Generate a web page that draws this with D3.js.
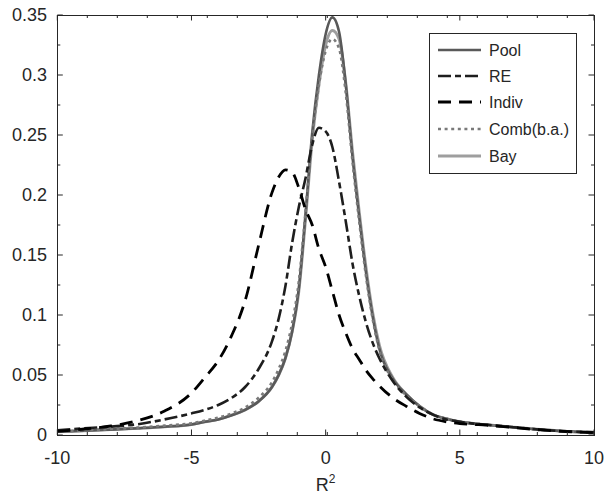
<!DOCTYPE html>
<html><head><meta charset="utf-8">
<script src="https://cdn.jsdelivr.net/npm/d3@7"></script>
<style>
body{margin:0;background:#fff;}
text{font-family:"Liberation Sans",Arial,Helvetica,sans-serif;fill:#262626;}
</style></head>
<body><svg id="c" width="606" height="496"></svg>
<script>
const xGrid = [-10,-9,-8,-7,-6,-5,-4.5,-4,-3.5,-3,-2.5,-2,-1.75,-1.5,-1.25,-1,-0.75,-0.5,-0.25,0,0.25,0.5,0.75,1,1.25,1.5,1.75,2,2.5,3,3.5,4,4.5,5,5.5,6,6.5,7,8,9,10];
const poolY = [0.0028,0.0035,0.0045,0.0056,0.0069,0.0088,0.011,0.013,0.0165,0.021,0.028,0.040,0.050,0.064,0.086,0.122,0.184,0.252,0.300,0.334,0.348,0.336,0.292,0.232,0.182,0.136,0.099,0.072,0.047,0.034,0.024,0.017,0.0135,0.011,0.0095,0.0085,0.0075,0.0065,0.0045,0.003,0.0022];
const reY = [0.004,0.0055,0.007,0.009,0.013,0.018,0.021,0.025,0.031,0.040,0.055,0.078,0.097,0.124,0.160,0.190,0.214,0.242,0.256,0.253,0.240,0.211,0.178,0.143,0.116,0.094,0.077,0.064,0.045,0.032,0.023,0.017,0.013,0.011,0.0095,0.0085,0.0075,0.0065,0.0045,0.003,0.0022];
const indivY = [0.003,0.005,0.0075,0.012,0.020,0.035,0.048,0.062,0.083,0.112,0.158,0.202,0.215,0.221,0.219,0.206,0.188,0.175,0.155,0.140,0.120,0.100,0.085,0.072,0.063,0.054,0.047,0.041,0.031,0.024,0.018,0.0135,0.011,0.0095,0.0088,0.0082,0.0072,0.0062,0.0042,0.0028,0.002];
const combY = [0.003,0.0038,0.005,0.0062,0.0078,0.0098,0.012,0.0145,0.018,0.023,0.031,0.044,0.055,0.070,0.093,0.128,0.186,0.248,0.292,0.320,0.330,0.322,0.285,0.228,0.178,0.133,0.097,0.071,0.046,0.033,0.024,0.017,0.0135,0.011,0.0095,0.0085,0.0075,0.0065,0.0045,0.003,0.0022];
const bayY = [0.0028,0.0035,0.0045,0.0056,0.0069,0.0088,0.011,0.013,0.0165,0.021,0.028,0.040,0.050,0.064,0.086,0.120,0.180,0.246,0.292,0.325,0.337,0.330,0.293,0.236,0.186,0.140,0.102,0.075,0.048,0.034,0.024,0.017,0.0135,0.011,0.0095,0.0085,0.0075,0.0065,0.0045,0.003,0.0022];
const seriesNames = ["Pool","RE","Indiv","Comb(b.a.)","Bay"];
const xTicks = [-10,-5,0,5,10];
const yTicks = [0,0.05,0.1,0.15,0.2,0.25,0.3,0.35];
const yTickLabels = ["0","0.05","0.1","0.15","0.2","0.25","0.3","0.35"];
const xMinorStep = 1.118;

const styles = [
  {color:"#595959", width:2.6, dash:null},
  {color:"#1e1e1e", width:2.6, dash:"13,4,6,4"},
  {color:"#000000", width:2.8, dash:"13,8"},
  {color:"#7a7a7a", width:2.6, dash:"3,3.6"},
  {color:"#9e9e9e", width:3.0, dash:null}
];
const allY = [poolY, reY, indivY, combY, bayY];
const drawOrder = [4,0,3,1,2];

const svg = d3.select("#c");
const L=57.3, R=594, T=15, B=435;
const x = d3.scaleLinear().domain([-10,10]).range([L,R]);
const y = d3.scaleLinear().domain([0,0.35]).range([B,T]);

const line = d3.line().x(d=>x(d[0])).y(d=>y(d[1])).curve(d3.curveMonotoneX);
const plot = svg.append("g");
plot.append("clipPath").attr("id","clip").append("rect").attr("x",L).attr("y",T).attr("width",R-L).attr("height",B-T);
const lines = plot.append("g").attr("clip-path","url(#clip)");
drawOrder.forEach(i=>{
  const s = styles[i];
  lines.append("path").datum(xGrid.map((xv,k)=>[xv, allY[i][k]]))
    .attr("d", line).attr("fill","none").attr("stroke",s.color)
    .attr("stroke-width",s.width).attr("stroke-dasharray",s.dash)
    .attr("stroke-linejoin","round");
});

// axes
const ax = svg.append("g").attr("stroke","#262626").attr("stroke-width",1).attr("fill","none");
ax.append("rect").attr("x",L).attr("y",T).attr("width",R-L).attr("height",B-T).attr("shape-rendering","crispEdges");
const xMinor = d3.range(-10+xMinorStep, 10, xMinorStep);
const yMinor = d3.range(0.025, 0.35, 0.05);
xTicks.forEach(v=>{
  ax.append("line").attr("x1",x(v)).attr("x2",x(v)).attr("y1",B).attr("y2",B-5.5);
  ax.append("line").attr("x1",x(v)).attr("x2",x(v)).attr("y1",T).attr("y2",T+5.5);
});
xMinor.forEach(v=>{
  ax.append("line").attr("x1",x(v)).attr("x2",x(v)).attr("y1",B).attr("y2",B-3);
  ax.append("line").attr("x1",x(v)).attr("x2",x(v)).attr("y1",T).attr("y2",T+3);
});
yTicks.forEach(v=>{
  ax.append("line").attr("x1",L).attr("x2",L+5.5).attr("y1",y(v)).attr("y2",y(v));
  ax.append("line").attr("x1",R).attr("x2",R-5.5).attr("y1",y(v)).attr("y2",y(v));
});
yMinor.forEach(v=>{
  ax.append("line").attr("x1",L).attr("x2",L+3).attr("y1",y(v)).attr("y2",y(v));
  ax.append("line").attr("x1",R).attr("x2",R-3).attr("y1",y(v)).attr("y2",y(v));
});

xTicks.forEach(v=>{
  svg.append("text").attr("x",x(v)).attr("y",464).attr("text-anchor","middle")
    .attr("font-size",18).text(v);
});
yTicks.forEach((v,i)=>{
  svg.append("text").attr("x",47).attr("y",y(v)).attr("dy","0.36em").attr("text-anchor","end")
    .attr("font-size",18).text(yTickLabels[i]);
});
const xl = svg.append("text").attr("x",x(0)).attr("y",491).attr("text-anchor","middle").attr("font-size",18);
xl.append("tspan").text("R");
xl.append("tspan").attr("font-size",12).attr("dy",-8).text("2");

// legend
const lg = svg.append("g");
lg.append("rect").attr("x",429.5).attr("y",33.5).attr("width",147).attr("height",140)
  .attr("fill","#fff").attr("stroke","#262626").attr("stroke-width",1);
const ly = [50,76,102,129,156];
seriesNames.forEach((n,i)=>{
  const s = styles[i];
  lg.append("line").attr("x1",438).attr("x2",481).attr("y1",ly[i]).attr("y2",ly[i])
    .attr("stroke",s.color).attr("stroke-width",s.width).attr("stroke-dasharray",s.dash);
  lg.append("text").attr("x",489).attr("y",ly[i]).attr("dy","0.36em").attr("font-size",16).text(n);
});
</script></body></html>
